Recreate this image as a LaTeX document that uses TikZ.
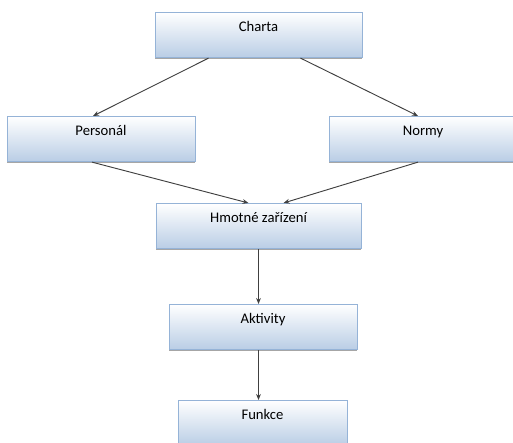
\documentclass[tikz,border=0pt]{standalone}
\usepackage{fontspec}
\setmainfont{Carlito}
\usepackage{tikz}
\usetikzlibrary{arrows.meta,calc,shadows,positioning}

\definecolor{boxline}{RGB}{149,179,215}
\definecolor{boxfill}{RGB}{185,205,229}
\definecolor{arrowgray}{RGB}{64,64,64}

\tikzset
{
	block/.style =
	{
		draw			= boxline,
		line width		= 0.6pt,
		rectangle,
		anchor			= north,
		top color		= white,
		bottom color	= boxfill,
		inner xsep		= 0pt,
		inner ysep		= 0pt,
		text height		= 14.5pt,
		text depth		= 19.5pt,
		font			= \fontsize{11}{13}\selectfont,
		drop shadow		= {shadow xshift=0pt, shadow yshift=-1.2pt, opacity=0.35, fill=black}
	},
	link/.style =
	{
		draw			= arrowgray,
		line width		= 0.7pt,
		-{Stealth[length=4.5pt,width=3.6pt]}
	}
}

\begin{document}
\begin{tikzpicture}[x=0.75pt,y=-0.75pt]
		%
		\useasboundingbox (0,0) rectangle (513,442);
		%
		\node [block, minimum width = 155.25pt] (charta)	at (258.5,12)	{Charta};
		\node [block, minimum width = 141pt]	(personal)	at (101,116)	{Personál};
		\node [block, minimum width = 141pt]	(normy)		at (423,116)	{Normy};
		\node [block, minimum width = 153.75pt] (hmotne)	at (258.5,203)	{Hmotné zařízení};
		\node [block, minimum width = 141pt]	(aktivity)	at (263,304)	{Aktivity};
		\node [block, minimum width = 126.75pt] (funkce)	at (262.5,400)	{Funkce};
		%
		\draw [link] ($(charta.south)+(-50,0)$)		-- ($(personal.north)+(-8,0)$);
		\draw [link] ($(charta.south)+(42,0)$)		-- ($(normy.north)+(-5,0)$);
		\draw [link] ($(personal.south)+(-9,0)$)	-- ($(hmotne.north)+(-10,0)$);
		\draw [link] ($(normy.south)+(-5,0)$)		-- ($(hmotne.north)+(25,0)$);
		\draw [link] (hmotne.south)					-- (hmotne.south |- aktivity.north);
		\draw [link] (hmotne.south |- aktivity.south) -- (hmotne.south |- funkce.north);
		%
	\end{tikzpicture}
\end{document}
